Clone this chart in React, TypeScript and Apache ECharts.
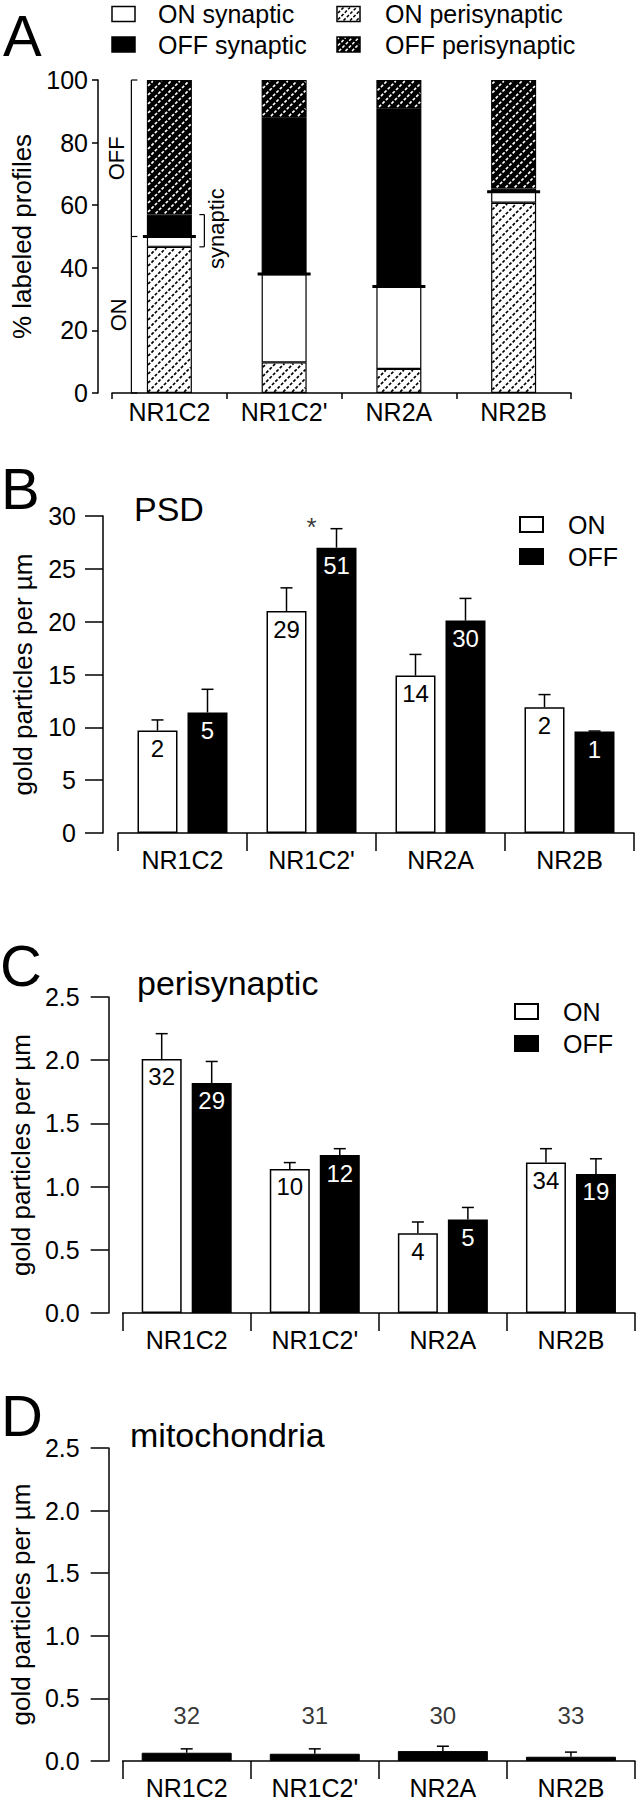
import React, { useEffect, useRef } from "react";
import * as echarts from "echarts";

// ---------- data ----------
const categories = ["NR1C2", "NR1C2'", "NR2A", "NR2B"];

// Panel A: % labeled profiles (stacked, bottom to top)
const onPeri = [46.7, 9.8, 7.7, 60.8];
const onSyn = [3.3, 28.2, 26.3, 3.5];
const offSyn = [7.0, 50.1, 57.0, 1.0];
const offPeri = [43.0, 11.9, 9.0, 34.7];
const aTicks = { min: 0, max: 100, interval: 20 };
const aLegend = [
  { name: "ON synaptic", fill: "#fff", hatch: "" },
  { name: "OFF synaptic", fill: "#000", hatch: "" },
  { name: "ON perisynaptic", fill: "#fff", hatch: "#000" },
  { name: "OFF perisynaptic", fill: "#000", hatch: "#fff" },
];

// Panel B: PSD (gold particles per µm)
const psdOn = [9.7, 21.0, 14.9, 11.9];
const psdOnErr = [1.0, 2.2, 2.0, 1.2];
const psdOff = [11.4, 27.0, 20.1, 9.6];
const psdOffErr = [2.2, 1.8, 2.1, 0.05];
const psdOnN = [2, 29, 14, 2];
const psdOffN = [5, 51, 30, 1];
const psdStar = [{ cat: 1, text: "*" }];
const bTicks = { min: 0, max: 30, interval: 5 };

// Panel C: perisynaptic
const periOn = [2.01, 1.14, 0.63, 1.19];
const periOnErr = [0.2, 0.05, 0.09, 0.11];
const periOff = [1.82, 1.25, 0.74, 1.1];
const periOffErr = [0.17, 0.05, 0.095, 0.12];
const periOnN = [32, 10, 4, 34];
const periOffN = [29, 12, 5, 19];
const cTicks = { min: 0, max: 2.5, interval: 0.5 };

// Panel D: mitochondria
const mito = [0.066, 0.058, 0.079, 0.034];
const mitoErr = [0.031, 0.039, 0.039, 0.037];
const mitoN = [32, 31, 30, 33];
const mitoLabelLevel = 0.36;
const dTicks = { min: 0, max: 2.5, interval: 0.5 };

// ---------- styles ----------
const FONT = "Liberation Sans, Arial, Helvetica, sans-serif";
const BLACK = "#000";
const WHITE = "#fff";
const AX_W = 1.5;
const BAR_W = 40;
const BAR_GAP = 10;
const A_BAR_W = 45;
const HATCH_STEP = 9;

// diagonal "/" dashed hatch lines clipped to a rectangle
function hatchLines(x0: number, y0: number, x1: number, y1: number, color: string, step: number, lw: number) {
  const out: any[] = [];
  if (y1 - y0 < 1 || x1 - x0 < 1) return out;
  for (let k = Math.ceil((x0 + y0) / step) * step; k <= x1 + y1; k += step) {
    const xa = Math.max(x0, k - y1);
    const xb = Math.min(x1, k - y0);
    if (xb - xa < 0.6) continue;
    out.push({
      type: "line",
      silent: true,
      shape: { x1: xa, y1: k - xa, x2: xb, y2: k - xb },
      style: { stroke: color, lineWidth: lw, lineDash: [3, 1.8] },
    });
  }
  return out;
}

function catAxis(gridIndex: number, tickLen: number, labelMargin: number) {
  return {
    type: "category",
    gridIndex,
    data: categories,
    boundaryGap: true,
    axisLine: { show: true, lineStyle: { color: BLACK, width: AX_W } },
    axisTick: { show: true, alignWithLabel: false, length: tickLen, lineStyle: { color: BLACK, width: AX_W } },
    axisLabel: { color: BLACK, fontSize: 25, fontFamily: FONT, margin: labelMargin, interval: 0 },
    splitLine: { show: false },
  };
}

function valAxis(
  gridIndex: number,
  t: { min: number; max: number; interval: number },
  name: string,
  nameGap: number,
  offset: number,
  tickLen: number,
  labelMargin: number,
  decimals: number
) {
  return {
    type: "value",
    gridIndex,
    min: t.min,
    max: t.max,
    interval: t.interval,
    offset,
    name,
    nameLocation: "middle",
    nameGap,
    nameTextStyle: { color: BLACK, fontSize: 26, fontFamily: FONT },
    axisLine: { show: true, lineStyle: { color: BLACK, width: AX_W } },
    axisTick: { show: true, length: tickLen, lineStyle: { color: BLACK, width: AX_W } },
    axisLabel: {
      color: BLACK,
      fontSize: 25,
      fontFamily: FONT,
      margin: labelMargin,
      formatter: (v: number) => v.toFixed(decimals),
    },
    splitLine: { show: false },
  };
}

function errSeries(name: string, axis: number, vals: number[], errs: number[], dx: number) {
  return {
    type: "custom",
    name: name + "-err",
    xAxisIndex: axis,
    yAxisIndex: axis,
    z: 5,
    silent: true,
    data: vals.map((v, i) => [i, v, errs[i]]),
    renderItem: (_p: any, api: any) => {
      const c = api.value(0);
      const v = api.value(1);
      const e = api.value(2);
      const b = api.coord([c, v]);
      const t = api.coord([c, v + e]);
      const x = b[0] + dx;
      return {
        type: "group",
        children: [
          { type: "line", shape: { x1: x, y1: b[1], x2: x, y2: t[1] }, style: { stroke: BLACK, lineWidth: 1.5 } },
          { type: "line", shape: { x1: x - 6, y1: t[1], x2: x + 6, y2: t[1] }, style: { stroke: BLACK, lineWidth: 1.5 } },
        ],
      };
    },
  };
}

function groupedBar(name: string, axis: number, vals: number[], ns: number[], color: string, txt: string) {
  return {
    type: "bar",
    name,
    xAxisIndex: axis,
    yAxisIndex: axis,
    barWidth: BAR_W,
    barGap: (BAR_GAP / BAR_W) * 100 + "%",
    data: vals,
    itemStyle: { color, borderColor: BLACK, borderWidth: 1.5 },
    label: {
      show: true,
      position: "insideTop",
      distance: 6,
      color: txt,
      fontSize: 24,
      fontFamily: FONT,
      formatter: (p: any) => String(ns[p.dataIndex]),
    },
  };
}

function stackBar(name: string, vals: number[], color: string) {
  return {
    type: "bar",
    name,
    stack: "a",
    xAxisIndex: 0,
    yAxisIndex: 0,
    barWidth: A_BAR_W,
    data: vals,
    itemStyle: { color, borderColor: BLACK, borderWidth: 1.2 },
  };
}

function hatchSeries(name: string, bottoms: number[], tops: number[], color: string) {
  return {
    type: "custom",
    name,
    xAxisIndex: 0,
    yAxisIndex: 0,
    z: 4,
    silent: true,
    data: categories.map((_c, i) => [i, bottoms[i], tops[i]]),
    renderItem: (_p: any, api: any) => {
      const c = api.value(0);
      const b = api.coord([c, api.value(1)]);
      const t = api.coord([c, api.value(2)]);
      const x0 = b[0] - A_BAR_W / 2 + 1.2;
      const x1 = b[0] + A_BAR_W / 2 - 1.2;
      return {
        type: "group",
        children: hatchLines(x0, t[1] + 1.2, x1, b[1] - 1.2, color, HATCH_STEP, 1.7),
      };
    },
  };
}

function legendAt(names: string[], left: number, top: number, gap: number, textPad: number) {
  return {
    show: true,
    orient: "vertical",
    left,
    top,
    padding: 0,
    itemWidth: 23,
    itemHeight: 15,
    itemGap: gap,
    selectedMode: false,
    icon: "rect",
    data: names,
    textStyle: { color: BLACK, fontSize: 25, fontFamily: FONT, padding: [0, 0, 0, textPad] },
  };
}

function letter(text: string, x: number, y: number) {
  return {
    type: "text",
    x,
    y,
    style: { text, fontSize: 58, fontFamily: FONT, fill: BLACK, verticalAlign: "middle", align: "left" },
  };
}
function title(text: string, x: number, y: number) {
  return {
    type: "text",
    x,
    y,
    style: { text, fontSize: 34, fontFamily: FONT, fill: BLACK, verticalAlign: "middle", align: "left" },
  };
}

// panel A legend drawn as graphic (2 columns x 2 rows)
function aLegendGraphic() {
  const colX = [112, 337];
  const textX = [158, 385];
  const rowY = [14, 44.5];
  const order = [
    [0, 0],
    [0, 1],
    [1, 0],
    [1, 1],
  ];
  const out: any[] = [];
  aLegend.forEach((it, i) => {
    const [col, row] = order[i];
    const x = colX[col];
    const y = rowY[row] - 7.5;
    out.push({
      type: "rect",
      shape: { x, y, width: 23, height: 15 },
      style: { fill: it.fill, stroke: BLACK, lineWidth: 1.5 },
      z: 10,
    });
    if (it.hatch) {
      hatchLines(x + 1, y + 1, x + 22, y + 14, it.hatch, 6.5, 1.5).forEach((l) => out.push({ ...l, z: 11 }));
    }
    out.push({
      type: "text",
      x: textX[col],
      y: rowY[row],
      z: 10,
      style: { text: it.name, fontSize: 25, fontFamily: FONT, fill: BLACK, verticalAlign: "middle", align: "left" },
    });
  });
  return out;
}

export default function App() {
  const ref = useRef<HTMLDivElement>(null);
  useEffect(() => {
    if (!ref.current) return;
    const chart = echarts.init(ref.current, undefined, { renderer: "svg" });
    const on0 = onPeri[0] + onSyn[0];
    const offBase = onPeri.map((v, i) => v + onSyn[i] + offSyn[i]);
    const offTop = offBase.map((v, i) => v + offPeri[i]);
    const zeros = categories.map(() => 0);
    const option: any = {
      animation: false,
      backgroundColor: WHITE,
      textStyle: { fontFamily: FONT, color: BLACK },
      grid: [
        { left: 112, top: 80, width: 459, height: 313 },
        { left: 118, top: 516, width: 516, height: 317 },
        { left: 119, top: 997, width: 516, height: 316 },
        { left: 119, top: 1448, width: 516, height: 317 },
      ],
      xAxis: [catAxis(0, 6, 6), catAxis(1, 18, 14), catAxis(2, 18, 14), catAxis(3, 18, 14)],
      yAxis: [
        valAxis(0, aTicks, "% labeled profiles", 62, 14, 6, 10, 0),
        valAxis(1, bTicks, "gold particles per µm", 67, 15, 18, 27, 0),
        valAxis(2, cTicks, "gold particles per µm", 73, 14, 18, 29, 1),
        valAxis(3, dTicks, "gold particles per µm", 73, 14, 18, 29, 1),
      ],
      legend: [legendAt(["ON", "OFF"], 519, 512, 7, 20), legendAt(["ON", "OFF"], 514, 999, 7, 20)],
      graphic: [
        letter("A", 3, 35),
        letter("B", 1, 488),
        letter("C", 0, 965),
        letter("D", 1, 1415),
        title("PSD", 134, 509),
        title("perisynaptic", 137, 983),
        title("mitochondria", 130, 1435),
        ...aLegendGraphic(),
      ],
      series: [
        // Panel A stacked bars
        stackBar("ON perisynaptic", onPeri, WHITE),
        stackBar("ON synaptic", onSyn, WHITE),
        stackBar("OFF synaptic", offSyn, BLACK),
        stackBar("OFF perisynaptic", offPeri, BLACK),
        hatchSeries("ON perisynaptic hatch", zeros, onPeri, BLACK),
        hatchSeries("OFF perisynaptic hatch", offBase, offTop, WHITE),
        // thick ON/OFF boundary lines
        {
          type: "custom",
          name: "boundary",
          xAxisIndex: 0,
          yAxisIndex: 0,
          z: 6,
          silent: true,
          data: categories.map((_c, i) => [i, onPeri[i] + onSyn[i]]),
          renderItem: (_p: any, api: any) => {
            const pt = api.coord([api.value(0), api.value(1)]);
            const h = A_BAR_W / 2 + 4;
            return {
              type: "line",
              shape: { x1: pt[0] - h, y1: pt[1], x2: pt[0] + h, y2: pt[1] },
              style: { stroke: BLACK, lineWidth: 3 },
            };
          },
        },
        // ON/OFF and synaptic brackets next to the first bar
        {
          type: "custom",
          name: "brackets",
          xAxisIndex: 0,
          yAxisIndex: 0,
          z: 6,
          silent: true,
          data: [[0, onPeri[0], on0, on0 + offSyn[0]]],
          renderItem: (_p: any, api: any) => {
            const c = api.value(0);
            const pb = api.coord([c, aTicks.min]);
            const yt = api.coord([c, aTicks.max])[1];
            const yb = pb[1];
            const ym = api.coord([c, api.value(2)])[1];
            const ys1 = api.coord([c, api.value(1)])[1];
            const ys2 = api.coord([c, api.value(3)])[1];
            const cx = pb[0];
            const bx = cx - 38;
            const st = { stroke: BLACK, lineWidth: 1.2 };
            const sx = cx + 30;
            const ex = cx + 35;
            const txt = (text: string, x: number, y: number) => ({
              type: "text",
              x,
              y,
              rotation: Math.PI / 2,
              style: { text, fontSize: 22, fontFamily: FONT, fill: BLACK, align: "center", verticalAlign: "middle" },
            });
            return {
              type: "group",
              children: [
                { type: "line", shape: { x1: bx, y1: yt, x2: bx, y2: yb }, style: st },
                { type: "line", shape: { x1: bx, y1: yt, x2: bx + 6, y2: yt }, style: st },
                { type: "line", shape: { x1: bx, y1: ym, x2: bx + 6, y2: ym }, style: st },
                { type: "line", shape: { x1: bx, y1: yb, x2: bx + 6, y2: yb }, style: st },
                txt("OFF", bx - 15, (yt + ym) / 2),
                txt("ON", bx - 13, (ym + yb) / 2),
                { type: "line", shape: { x1: sx, y1: ys2, x2: ex, y2: ys2 }, style: st },
                { type: "line", shape: { x1: ex, y1: ys2, x2: ex, y2: ys1 }, style: st },
                { type: "line", shape: { x1: sx, y1: ys1, x2: ex, y2: ys1 }, style: st },
                txt("synaptic", cx + 47, (ys1 + ys2) / 2 - 2),
              ],
            };
          },
        },
        // Panel B
        groupedBar("ON", 1, psdOn, psdOnN, WHITE, BLACK),
        groupedBar("OFF", 1, psdOff, psdOffN, BLACK, WHITE),
        errSeries("psdOn", 1, psdOn, psdOnErr, -(BAR_W + BAR_GAP) / 2),
        errSeries("psdOff", 1, psdOff, psdOffErr, (BAR_W + BAR_GAP) / 2),
        {
          type: "scatter",
          name: "sig",
          xAxisIndex: 1,
          yAxisIndex: 1,
          symbolSize: 1,
          silent: true,
          itemStyle: { color: "rgba(0,0,0,0)" },
          data: psdStar.map((s) => [s.cat, Math.max(psdOn[s.cat] + psdOnErr[s.cat], psdOff[s.cat] + psdOffErr[s.cat]) + 0.2]),
          label: {
            show: true,
            position: "inside",
            color: BLACK,
            fontSize: 26,
            fontFamily: FONT,
            formatter: (p: any) => psdStar[p.dataIndex].text,
          },
        },
        // Panel C
        groupedBar("ON", 2, periOn, periOnN, WHITE, BLACK),
        groupedBar("OFF", 2, periOff, periOffN, BLACK, WHITE),
        errSeries("periOn", 2, periOn, periOnErr, -(BAR_W + BAR_GAP) / 2),
        errSeries("periOff", 2, periOff, periOffErr, (BAR_W + BAR_GAP) / 2),
        // Panel D
        {
          type: "bar",
          name: "mitochondria",
          xAxisIndex: 3,
          yAxisIndex: 3,
          barWidth: BAR_W * 2 + BAR_GAP,
          data: mito,
          itemStyle: { color: BLACK, borderColor: BLACK, borderWidth: 1 },
        },
        errSeries("mito", 3, mito, mitoErr, 0),
        {
          type: "scatter",
          name: "mitoN",
          xAxisIndex: 3,
          yAxisIndex: 3,
          symbolSize: 1,
          silent: true,
          itemStyle: { color: "rgba(0,0,0,0)" },
          data: mitoN.map((_n, i) => [i, mitoLabelLevel]),
          label: {
            show: true,
            position: "inside",
            color: BLACK,
            fontSize: 24,
            fontFamily: FONT,
            formatter: (p: any) => String(mitoN[p.dataIndex]),
          },
        },
      ],
    };
    chart.setOption(option);
    return () => chart.dispose();
  }, []);
  return (
    <div
      ref={ref}
      style={{ position: "absolute", left: 0, top: 0, width: 637, height: 1800, background: "#fff" }}
    />
  );
}
